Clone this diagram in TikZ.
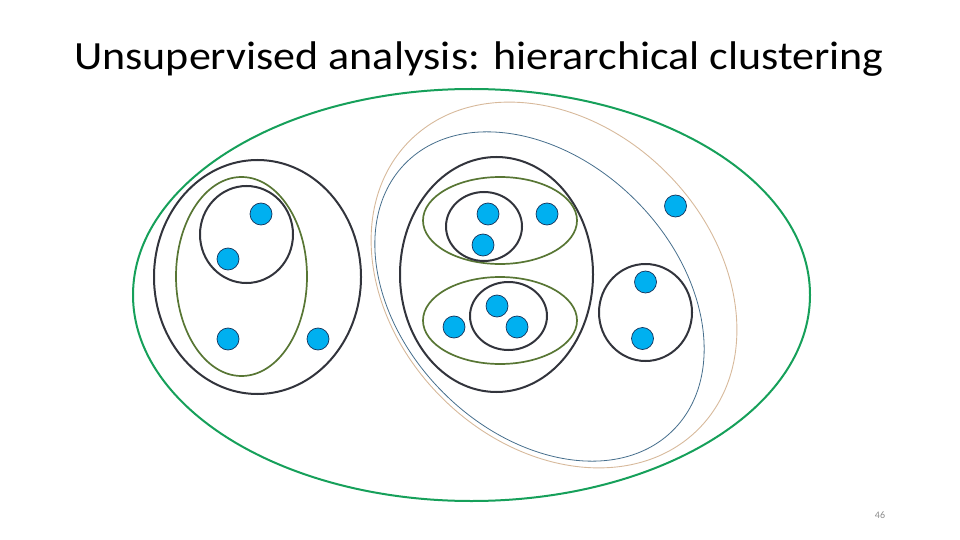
\documentclass[tikz,border=0pt]{standalone}
\usepackage{fontspec}
\setmainfont{Carlito}
\definecolor{cgreen}{RGB}{22,160,90}
\definecolor{cblack}{RGB}{50,52,60}
\definecolor{colive}{RGB}{88,118,52}
\definecolor{ctan}{RGB}{215,185,155}
\definecolor{cthinblue}{RGB}{70,110,140}
\definecolor{cdot}{RGB}{0,176,240}
\definecolor{cdotline}{RGB}{20,50,90}
\definecolor{cnum}{RGB}{140,140,140}
\begin{document}
\begin{tikzpicture}[x=1pt,y=-1pt,
  pt/.style={circle,minimum size=22pt,inner sep=0pt,fill=cdot,draw=cdotline,line width=0.7pt},
  top/.style={draw=cgreen,line width=2pt},
  blk/.style={draw=cblack,line width=2pt},
  olv/.style={draw=colive,line width=1.7pt},
  tanl/.style={draw=ctan,line width=0.9pt},
  thb/.style={draw=cthinblue,line width=0.8pt}]
\useasboundingbox (0,0) rectangle (960,540);
\node[anchor=base,xscale=1.1,transform shape,font=\fontsize{40}{48}\selectfont] (title) at (479,69.5) {Unsupervised analysis: hierarchical clustering};
\node[anchor=base,font=\fontsize{10}{12}\selectfont,text=cnum] (num) at (880,518) {46};
% outer
\path[top] (471.5,295) ellipse [x radius=338.5pt, y radius=206pt];
% right big tilted clusters
\path[tanl,rotate around={-45:(554,285)}] (554,285) ellipse [x radius=204pt, y radius=159pt];
\path[thb,rotate around={-45:(539.5,296.5)}] (539.5,296.5) ellipse [x radius=189pt, y radius=136pt];
% left group
\path[blk] (257.5,277) ellipse [x radius=103.5pt, y radius=117pt];
\path[olv] (241.5,276.5) ellipse [x radius=65.5pt, y radius=99.5pt];
\path[blk] (246.5,234.5) ellipse [x radius=46.5pt, y radius=48.5pt];
% middle group
\path[blk] (496.5,274.5) ellipse [x radius=96.5pt, y radius=117.5pt];
\path[olv] (500,220.5) ellipse [x radius=77pt, y radius=43.5pt];
\path[blk] (484,226.5) ellipse [x radius=38pt, y radius=34.5pt];
\path[olv] (500,320.5) ellipse [x radius=77pt, y radius=43.5pt];
\path[blk] (508.5,316) ellipse [x radius=38.5pt, y radius=34pt];
% right small circle
\path[blk] (645.5,312.5) ellipse [x radius=46.5pt, y radius=48.5pt];
% points
\node[pt] (p1) at (261,214) {};
\node[pt] (p2) at (228,259) {};
\node[pt] (p3) at (228,339) {};
\node[pt] (p4) at (318,339) {};
\node[pt] (p5) at (488,214) {};
\node[pt] (p6) at (483,245) {};
\node[pt] (p7) at (547,214) {};
\node[pt] (p8) at (497,306) {};
\node[pt] (p9) at (517,327) {};
\node[pt] (p10) at (454,327) {};
\node[pt] (p11) at (645.5,282) {};
\node[pt] (p12) at (642.5,338.5) {};
\node[pt] (p13) at (675.5,206) {};
\end{tikzpicture}
\end{document}
